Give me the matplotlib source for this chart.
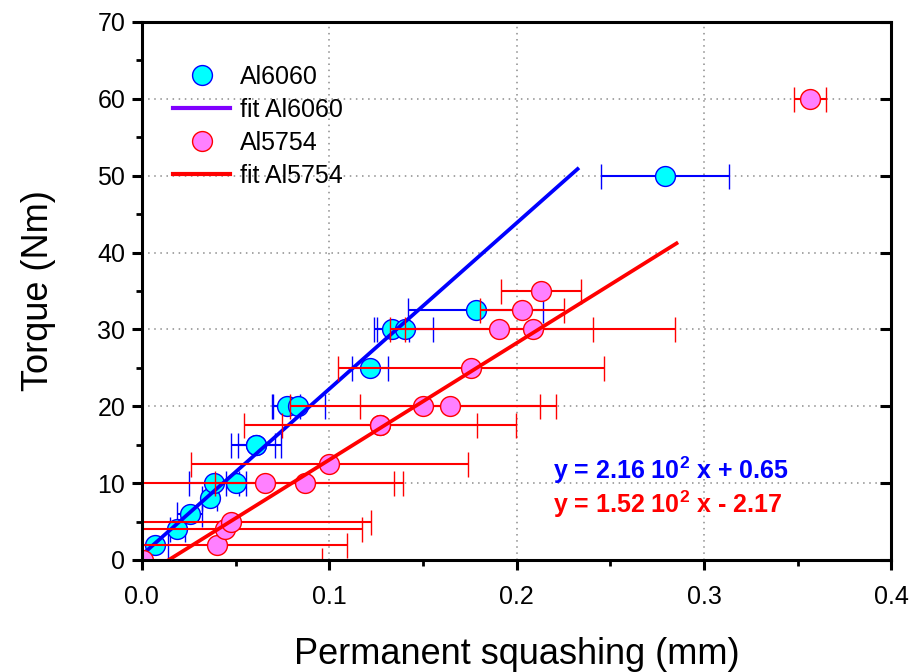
import matplotlib
matplotlib.use("Agg")
import matplotlib.pyplot as plt
from matplotlib.lines import Line2D
from matplotlib.ticker import MultipleLocator, FormatStrFormatter
import numpy as np

plt.rcParams['font.family'] = ['Liberation Sans', 'DejaVu Sans']
plt.rcParams['mathtext.fontset'] = 'custom'
plt.rcParams['mathtext.rm'] = 'Liberation Sans'
plt.rcParams['mathtext.bf'] = 'Liberation Sans:bold'

# Al6060 data
al6060_x = [0.0068, 0.019, 0.0255, 0.0362, 0.0385, 0.050, 0.061, 0.061,
            0.0773, 0.0835, 0.1217, 0.1333, 0.1404, 0.1781, 0.2791]
al6060_y = [2, 4, 6, 8, 10, 10, 15, 15, 20, 20, 25, 30, 30, 32.5, 50]
al6060_xerr = [0.0071, 0.004, 0.0067, 0.004, 0.0133, 0.0053, 0.0133, 0.0098,
               0.0071, 0.014, 0.0096, 0.0093, 0.0148, 0.036, 0.0341]

# Al5754 data
al5754_x = [0.0006, 0.040, 0.0445, 0.0477, 0.0658, 0.0869, 0.100, 0.127, 0.127,
            0.150, 0.1644, 0.1756, 0.1906, 0.2085, 0.2027, 0.2128, 0.3565]
al5754_y = [0, 2, 4, 5, 10, 10, 12.5, 17.5, 17.5, 20, 20, 25, 30, 30, 32.5, 35, 60]
al5754_xerr = [0.0954, 0.0694, 0.073, 0.0745, 0.0736, 0.0477, 0.0738, 0.0725, 0.052,
               0.071, 0.048, 0.0708, 0.050, 0.076, 0.0224, 0.0213, 0.0086]

# linear fits (slope, intercept) and drawn x-range
fit6060 = (216.0, 0.65)
fit6060_range = [0.0, 0.2325]
fit5754 = (152.0, -2.17)
fit5754_range = [0.0, 0.2853]

fig = plt.figure(figsize=(9.13, 6.72), dpi=100)
ax = fig.add_axes([0.1554, 0.1667, 0.8210, 0.8006])

ax.set_xlim(0, 0.4)
ax.set_ylim(0, 70)

ax.grid(True, which='major', linestyle=(0, (1, 3)), color='#8c8c8c', linewidth=1.1)
ax.set_axisbelow(True)

MS = 14.3
ax.errorbar(al6060_x, al6060_y, xerr=al6060_xerr, fmt='o', ms=MS,
            mfc='#00ffff', mec='#0000ff', mew=1.0, ecolor='#0000ff',
            elinewidth=1.5, capsize=9, capthick=2.2, zorder=3)
xf = np.array(fit6060_range)
ax.plot(xf, fit6060[0] * xf + fit6060[1], color='#0000ff', lw=2.7, zorder=4)

ax.errorbar(al5754_x, al5754_y, xerr=al5754_xerr, fmt='o', ms=MS,
            mfc='#ff80ff', mec='#ff0000', mew=1.0, ecolor='#ff0000',
            elinewidth=1.5, capsize=9, capthick=2.2, zorder=5)
xf = np.array(fit5754_range)
ax.plot(xf, fit5754[0] * xf + fit5754[1], color='#ff0000', lw=2.7, zorder=6)

handles = [
    Line2D([], [], ls='none', marker='o', ms=MS, mfc='#00ffff', mec='#0000ff', mew=1.0),
    Line2D([], [], color='#8000ff', lw=3),
    Line2D([], [], ls='none', marker='o', ms=MS, mfc='#ff80ff', mec='#ff0000', mew=1.0),
    Line2D([], [], color='#ff0000', lw=3),
]
labels = ['Al6060', 'fit Al6060', 'Al5754', 'fit Al5754']
ax.legend(handles, labels, loc='upper left', bbox_to_anchor=(0.018, 0.953),
          frameon=False, fontsize=18, handlelength=2.3, handletextpad=0.4,
          labelspacing=0.36, borderaxespad=0.3)

ax.text(0.2194, 11.7, r'y = 2.16 10$^{\mathbf{2}}$ x + 0.65', color='#0000ff',
        fontsize=18, fontweight='bold', va='center', ha='left')
ax.text(0.2194, 7.2, r'y = 1.52 10$^{\mathbf{2}}$ x - 2.17', color='#ff0000',
        fontsize=18, fontweight='bold', va='center', ha='left')

ax.xaxis.set_major_locator(MultipleLocator(0.1))
ax.xaxis.set_minor_locator(MultipleLocator(0.05))
ax.yaxis.set_major_locator(MultipleLocator(10))
ax.yaxis.set_minor_locator(MultipleLocator(5))
ax.xaxis.set_major_formatter(FormatStrFormatter('%.1f'))

for s in ax.spines.values():
    s.set_linewidth(2.2)
    s.set_zorder(10)

ax.tick_params(which='major', direction='out', length=7, width=2.2, labelsize=18,
               top=False, right=False)
ax.tick_params(which='minor', direction='out', length=4.5, width=2.0,
               top=False, right=False)
ax.tick_params(axis='y', which='major', right=True, labelright=False)
ax.yaxis.set_tick_params(which='major', pad=5)
ax.tick_params(axis='x', which='major', pad=11)

# right-side ticks point inward
for t in ax.yaxis.get_major_ticks():
    t.tick2line.set_marker(matplotlib.markers.TICKLEFT)
    t.tick2line.set_markersize(8)

ax.set_xlabel('Permanent squashing (mm)', fontsize=26, labelpad=20)
ax.set_ylabel('Torque (Nm)', fontsize=26, labelpad=30)

fig.savefig('out.png', dpi=100)
